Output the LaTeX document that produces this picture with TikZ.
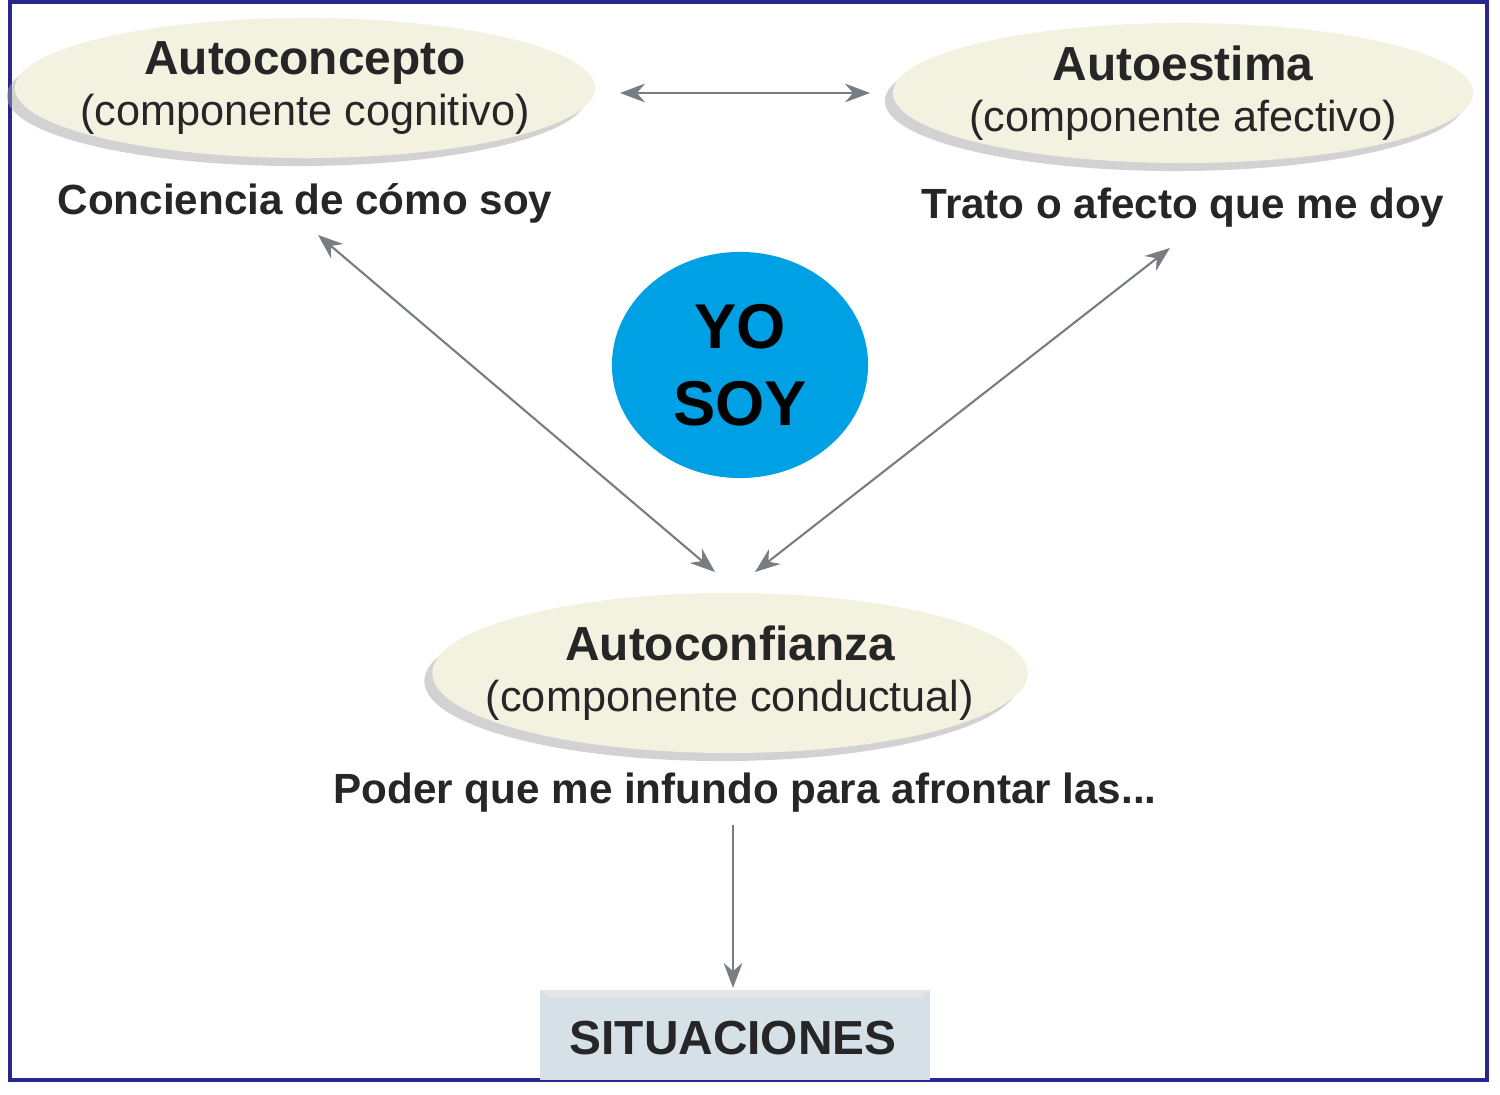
\documentclass[tikz,border=0pt]{standalone}
\usepackage{fontspec}
\setmainfont{Liberation Sans}
\usetikzlibrary{shapes.geometric,arrows.meta,shadows}

\definecolor{crema}{RGB}{243,241,224}
\definecolor{azulyo}{RGB}{0,160,228}
\definecolor{marco}{RGB}{40,40,140}
\definecolor{cajagris}{RGB}{214,224,231}
\definecolor{flecha}{RGB}{120,125,130}

\tikzset{
  comp/.style={ellipse, fill=crema, minimum width=5.8cm, minimum height=1.4cm,
    inner xsep=-0.4cm, inner ysep=-0.3cm, align=center,
    font=\fontsize{12.3}{14.5}\selectfont, text=black!85,
    drop shadow={shadow xshift=-0.8mm, shadow yshift=-0.8mm, fill=black!35}},
  titulo/.style={font=\bfseries\fontsize{13.6}{15.5}\selectfont},
  lema/.style={font=\bfseries\fontsize{12}{14}\selectfont, text=black!85},
  flechas/.style={draw=flecha, line width=0.6pt, {Stealth[length=2.5mm]}-{Stealth[length=2.5mm]}},
  flechauna/.style={draw=flecha, line width=0.6pt, -{Stealth[length=2.5mm]}}
}

\begin{document}
\begin{tikzpicture}[x=0.01cm, y=-0.01cm]
  \useasboundingbox (0,0) rectangle (1500,1095);
  \draw[marco, line width=1.2pt] (10,2) rectangle (1487,1080);
  %
  \node[comp] (concepto) at (305,88) {{\bfseries\fontsize{13.6}{15.5}\selectfont Autoconcepto}\\(componente cognitivo)};
  \node[comp] (estima) at (1183,93) {{\bfseries\fontsize{13.6}{15.5}\selectfont Autoestima}\\(componente afectivo)};
  \node[comp, minimum width=5.95cm, minimum height=1.6cm] (confianza) at (730,673)
    {{\bfseries\fontsize{13.6}{15.5}\selectfont Autoconfianza}\\(componente conductual)};
  %
  \node[lema] (como) at (305,203) {Conciencia de cómo soy};
  \node[lema] (trato) at (1183,208) {Trato o afecto que me doy};
  \node[lema] (poder) at (745,793) {Poder que me infundo para afrontar las...};
  %
  \node[ellipse, fill=azulyo, minimum width=2.56cm, minimum height=2.26cm, inner sep=0pt,
    align=center, font=\bfseries\fontsize{18}{22}\selectfont] (yo) at (740,365) {YO\\SOY};
  %
  \fill[cajagris] (540,990) rectangle (930,1080);
  \fill[black!10] (540,990) -- (930,990) -- (920,998) -- (550,998) -- cycle;
  \node[font=\bfseries\fontsize{13.6}{16}\selectfont, text=black!85] (situ) at (733,1038) {SITUACIONES};
  %
  \coordinate (izq) at (620,93);
  \coordinate (der) at (870,93);
  \coordinate (c1) at (318,235);
  \coordinate (c2) at (715,572);
  \coordinate (e1) at (1170,248);
  \coordinate (e2) at (755,572);
  \coordinate (p1) at (733,825);
  \coordinate (s1) at (733,988);
  \draw[flechas] (izq) -- (der);
  \draw[flechas] (c1) -- (c2);
  \draw[flechas] (e1) -- (e2);
  \draw[flechauna] (p1) -- (s1);
\end{tikzpicture}
\end{document}
